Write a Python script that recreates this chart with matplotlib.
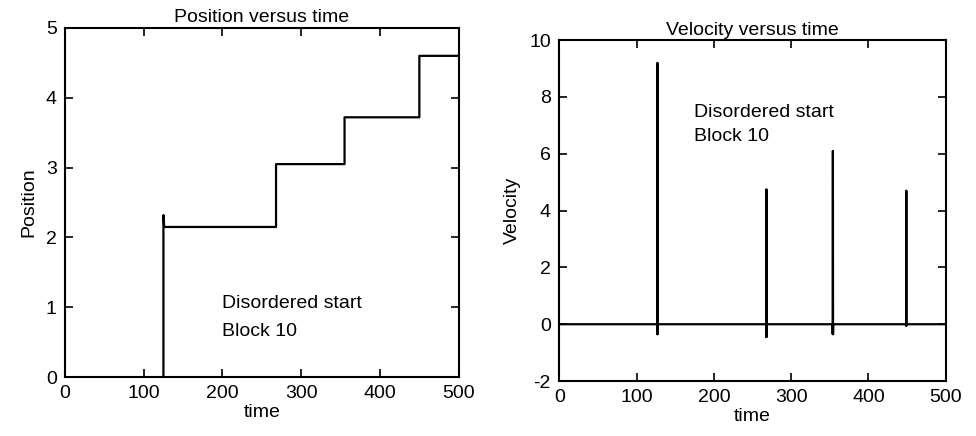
import matplotlib.pyplot as plt
import numpy as np

plt.rcParams['font.family'] = ['Liberation Sans', 'DejaVu Sans']
plt.rcParams['axes.unicode_minus'] = False

# position: step times and levels (first jump overshoots a little)
step_t = [0, 125, 268, 355, 450, 500]
step_pos = [0, 2.15, 3.05, 3.72, 4.6, 4.6]
overshoot = 2.32

# velocity: spikes at the jumps
spike_t = [127, 268, 354, 449]
spike_peak = [9.2, 4.75, 6.1, 4.7]
spike_dip = [-0.35, -0.45, -0.35, -0.05]
t_end = 500


def position_series():
  t, y = [step_t[0]], [step_pos[0]]
  for i in range(1, len(step_t) - 1):
    t += [step_t[i], step_t[i]]
    y += [step_pos[i-1], overshoot if i == 1 else step_pos[i]]
    if i == 1:
      t.append(step_t[i] + 1)
      y.append(step_pos[i])
  t.append(step_t[-1])
  y.append(step_pos[-1])
  return np.array(t), np.array(y)


def velocity_series():
  t, v = [0], [0]
  for st, pk, dp in zip(spike_t, spike_peak, spike_dip):
    t += [st - 0.4, st - 0.2, st, st + 0.2, st + 0.4]
    v += [0, dp, pk, dp, 0]
  t.append(t_end)
  v.append(0)
  return np.array(t), np.array(v)


def style_axes(ax):
  ax.tick_params(direction='in', top=True, right=True, length=6, width=1.2,
                 labelsize=14, pad=6)
  for s in ax.spines.values():
    s.set_linewidth(1.5)


fig = plt.figure(figsize=(9.76, 4.36), dpi=100)

ax1 = fig.add_axes([0.0666, 0.135, 0.4034, 0.801])
pt, py = position_series()
ax1.plot(pt, py, color='black', lw=1.6)
ax1.set_xlim(0, 500)
ax1.set_ylim(0, 5)
ax1.set_xticks(range(0, 501, 100))
ax1.set_yticks(range(0, 6))
ax1.set_title('Position versus time', fontsize=14, pad=4)
ax1.set_xlabel('time', fontsize=14, labelpad=1)
ax1.set_ylabel('Position', fontsize=14, labelpad=6)
ax1.text(199, 1.05, 'Disordered start', fontsize=14, va='center')
ax1.text(199, 0.65, 'Block 10', fontsize=14, va='center')
style_axes(ax1)

ax2 = fig.add_axes([0.573, 0.126, 0.396, 0.782])
vt, vv = velocity_series()
ax2.plot(vt, vv, color='black', lw=1.6)
ax2.set_xlim(0, 500)
ax2.set_ylim(-2, 10)
ax2.set_xticks(range(0, 501, 100))
ax2.set_yticks(range(-2, 11, 2))
ax2.set_title('Velocity versus time', fontsize=14, pad=4)
ax2.set_xlabel('time', fontsize=14, labelpad=1)
ax2.set_ylabel('Velocity', fontsize=14, labelpad=6)
ax2.text(174, 7.44, 'Disordered start', fontsize=14, va='center')
ax2.text(174, 6.62, 'Block 10', fontsize=14, va='center')
style_axes(ax2)

fig.savefig('out.png', dpi=100)
